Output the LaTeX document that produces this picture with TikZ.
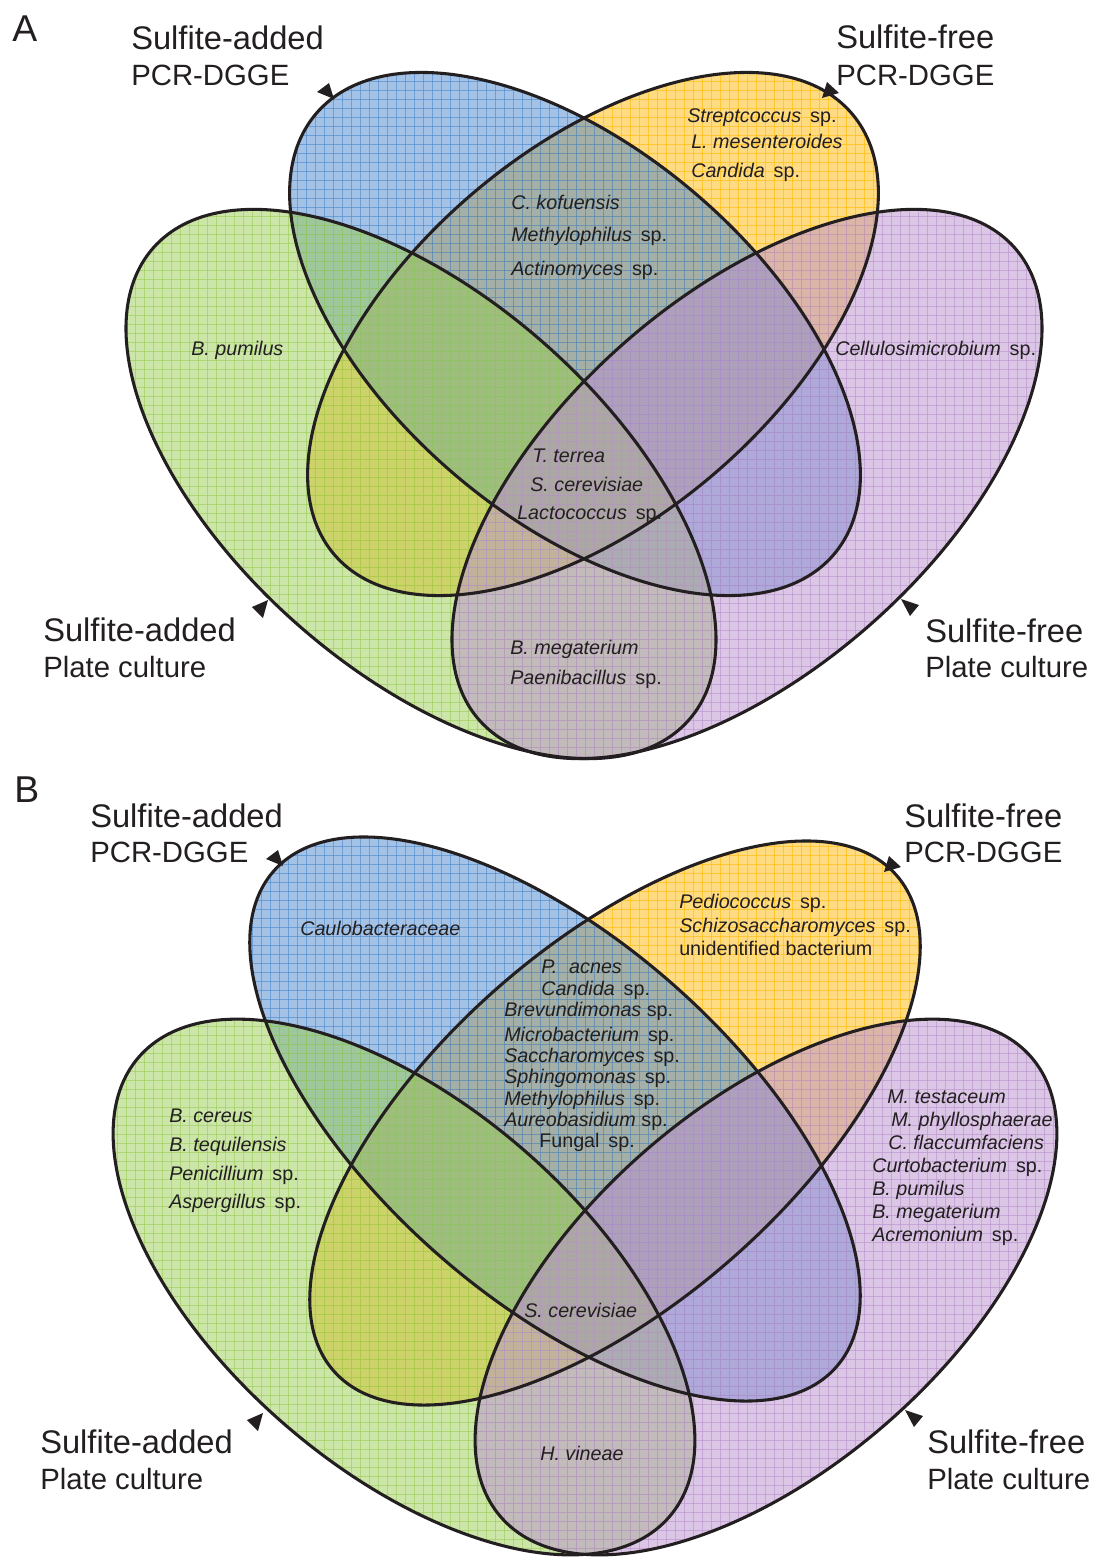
\documentclass[tikz,border=0pt]{standalone}
\usepackage{fontspec}
\setmainfont{Liberation Sans}
\definecolor{cG}{RGB}{155,205,85}
\definecolor{cB}{RGB}{75,135,205}
\definecolor{cY}{RGB}{255,185,5}
\definecolor{cP}{RGB}{185,145,205}
\definecolor{ink}{RGB}{35,31,32}
\newcommand\spname{\hspace{0.45em}\upshape sp.}
\newcommand\vennset[6]{% colour, cx, cy, a, b, angle
  \fill[#1, fill opacity=0.5] (#2,#3) ellipse [x radius=#4, y radius=#5, rotate=#6];
  \begin{scope}
    \clip (#2,#3) ellipse [x radius=#4, y radius=#5, rotate=#6];
    \pgfmathtruncatemacro\ya{9*floor((#3-300)/9)}
    \pgfmathtruncatemacro\yb{\ya+9}
    \pgfmathtruncatemacro\yc{#3+300}
    \pgfmathtruncatemacro\xa{9*floor((#2-400)/9)}
    \pgfmathtruncatemacro\xb{\xa+9}
    \pgfmathtruncatemacro\xc{#2+400}
    \foreach \gx in {\xa,\xb,...,\xc} \draw[gridline, #1] (\gx,\ya) -- (\gx,\yc);
    \foreach \gy in {\ya,\yb,...,\yc} \draw[gridline, #1] (\xa,\gy) -- (\xc,\gy);
  \end{scope}}
\newcommand\vennline[5]{\draw[outline] (#1,#2) ellipse [x radius=#3, y radius=#4, rotate=#5];}
\tikzset{
  gridline/.style={line width=0.5pt, draw opacity=0.6},
  outline/.style={draw=ink, line width=2.3pt},
  labA/.style={anchor=base west, inner sep=0pt, text=ink, font=\fontsize{24.5}{25}\selectfont},
  labB/.style={anchor=base west, inner sep=0pt, text=ink, font=\fontsize{22}{23}\selectfont},
  panel/.style={anchor=base west, inner sep=0pt, text=ink, font=\fontsize{28}{28}\selectfont},
  spc/.style={anchor=base west, inner sep=0pt, text=ink, font=\fontsize{14.8}{15}\selectfont\itshape},
  tip/.style={fill=ink}
}
\begin{document}
\begin{tikzpicture}[x=0.75pt,y=-0.75pt]
\useasboundingbox (0,0) rectangle (1096,1557);
\fill[white] (0,0) rectangle (1096,1557);
% ---------------- Panel A ----------------
\vennset{cY}{593}{334}{340}{185}{40.4}
\vennset{cB}{575}{334}{340}{185}{-40.4}
\vennset{cG}{421}{484}{357}{187}{-41.4}
\vennset{cP}{747}{484}{357}{187}{41.4}
\vennline{593}{334}{340}{185}{40.4}
\vennline{575}{334}{340}{185}{-40.4}
\vennline{421}{484}{357}{187}{-41.4}
\vennline{747}{484}{357}{187}{41.4}
% ---------------- Panel B ----------------
\vennset{cY}{615}{1123}{375}{179}{41.4}
\vennset{cB}{555}{1119}{375}{179}{-41.4}
\vennset{cG}{404}{1287}{351}{182}{-40.9}
\vennset{cP}{766}{1287}{351}{182}{40.9}
\vennline{615}{1123}{375}{179}{41.4}
\vennline{555}{1119}{375}{179}{-41.4}
\vennline{404}{1287}{351}{182}{-40.9}
\vennline{766}{1287}{351}{182}{40.9}
% ---------------- pointers (triangles) ----------------
\coordinate (ta1) at (334,99);   \coordinate (ta1l) at (317,92);   \coordinate (ta1r) at (329,83);
\coordinate (ta2) at (822,98);   \coordinate (ta2l) at (827,82);   \coordinate (ta2r) at (839,93);
\coordinate (ta3) at (268,600);  \coordinate (ta3l) at (252,607);  \coordinate (ta3r) at (263,618);
\coordinate (ta4) at (901,599);  \coordinate (ta4l) at (919,605);  \coordinate (ta4r) at (910,616);
\coordinate (tb1) at (283,866);  \coordinate (tb1l) at (266,859);  \coordinate (tb1r) at (278,850);
\coordinate (tb2) at (884,872);  \coordinate (tb2l) at (889,856);  \coordinate (tb2r) at (901,867);
\coordinate (tb3) at (263,1413); \coordinate (tb3l) at (247,1420); \coordinate (tb3r) at (258,1431);
\coordinate (tb4) at (905,1410); \coordinate (tb4l) at (923,1416); \coordinate (tb4r) at (914,1427);
\foreach \p in {ta1,ta2,ta3,ta4,tb1,tb2,tb3,tb4} \fill[tip] (\p) -- (\p l) -- (\p r) -- cycle;
% ---------------- labels A ----------------
\node[panel] (pA) at (12,41) {A};
\node[labA] (la1) at (131,49) {Sulfite-added};
\node[labB] (la2) at (131,85) {PCR-DGGE};
\node[labA] (la3) at (836,48) {Sulfite-free};
\node[labB] (la4) at (836,85) {PCR-DGGE};
\node[labA] (la5) at (43,641) {Sulfite-added};
\node[labB] (la6) at (43,677) {Plate culture};
\node[labA] (la7) at (925,642) {Sulfite-free};
\node[labB] (la8) at (925,677) {Plate culture};
% species A
\node[spc] (sa1) at (687,122) {Streptcoccus\spname};
\node[spc] (sa2) at (691,148) {L. mesenteroides};
\node[spc] (sa3) at (691,177) {Candida\spname};
\node[spc] (sa4) at (511,209) {C. kofuensis};
\node[spc] (sa5) at (511,241) {Methylophilus\spname};
\node[spc] (sa6) at (511,275) {Actinomyces\spname};
\node[spc] (sa7) at (191,355) {B. pumilus};
\node[spc] (sa8) at (835,355) {Cellulosimicrobium\spname};
\node[spc] (sa9) at (532,462) {T. terrea};
\node[spc] (sa10) at (530,491) {S. cerevisiae};
\node[spc] (sa11) at (517,519) {Lactococcus\spname};
\node[spc] (sa12) at (510,654) {B. megaterium};
\node[spc] (sa13) at (510,684) {Paenibacillus\spname};
% ---------------- labels B ----------------
\node[panel] (pB) at (14,802) {B};
\node[labA] (lb1) at (90,827) {Sulfite-added};
\node[labB] (lb2) at (90,862) {PCR-DGGE};
\node[labA] (lb3) at (904,827) {Sulfite-free};
\node[labB] (lb4) at (904,862) {PCR-DGGE};
\node[labA] (lb5) at (40,1453) {Sulfite-added};
\node[labB] (lb6) at (40,1489) {Plate culture};
\node[labA] (lb7) at (927,1453) {Sulfite-free};
\node[labB] (lb8) at (927,1489) {Plate culture};
% species B
\node[spc] (sb1) at (679,908) {Pediococcus\spname};
\node[spc] (sb2) at (679,932) {Schizosaccharomyces\spname};
\node[spc] (sb3) at (679,955) {\upshape unidentified bacterium};
\node[spc] (sb4) at (300,935) {Caulobacteraceae};
\node[spc] (sb5) at (541,973) {P.\hspace{0.6em}acnes};
\node[spc] (sb6) at (541,995) {Candida\spname};
\node[spc] (sb7) at (504,1016) {Brevundimonas\ \upshape sp.};
\node[spc] (sb8) at (504,1041) {Microbacterium\spname};
\node[spc] (sb9) at (504,1062) {Saccharomyces\spname};
\node[spc] (sb10) at (504,1083) {Sphingomonas\spname};
\node[spc] (sb11) at (504,1105) {Methylophilus\spname};
\node[spc] (sb12) at (504,1126) {Aureobasidium\ \upshape sp.};
\node[spc] (sb13) at (539,1147) {\upshape Fungal\hspace{0.45em}sp.};
\node[spc] (sb14) at (169,1122) {B. cereus};
\node[spc] (sb15) at (169,1151) {B. tequilensis};
\node[spc] (sb16) at (169,1180) {Penicillium\spname};
\node[spc] (sb17) at (169,1208) {Aspergillus\spname};
\node[spc] (sb18) at (887,1103) {M. testaceum};
\node[spc] (sb19) at (891,1126) {M. phyllosphaerae};
\node[spc] (sb20) at (888,1149) {C. flaccumfaciens};
\node[spc] (sb21) at (872,1172) {Curtobacterium\spname};
\node[spc] (sb22) at (872,1195) {B. pumilus};
\node[spc] (sb23) at (872,1218) {B. megaterium};
\node[spc] (sb24) at (872,1241) {Acremonium\spname};
\node[spc] (sb25) at (524,1317) {S. cerevisiae};
\node[spc] (sb26) at (540,1460) {H. vineae};
\end{tikzpicture}
\end{document}
